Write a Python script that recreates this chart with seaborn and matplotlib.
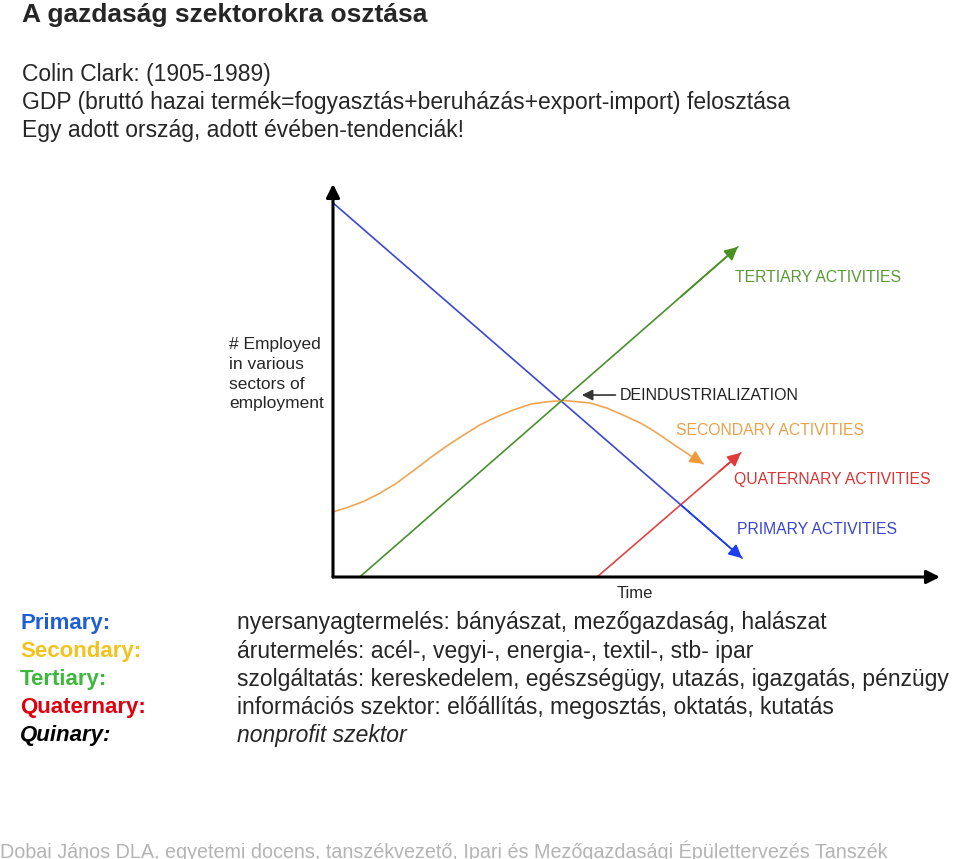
import numpy as np
import pandas as pd
import matplotlib
matplotlib.use("Agg")
import matplotlib.pyplot as plt
import seaborn as sns

# -----------------------------
# Data (time / employment 0..100)
# -----------------------------
primary_x = [0.0, 67.4]
primary_y = [95.2, 4.8]

tertiary_x = [4.4, 66.7]
tertiary_y = [0.0, 84.0]

quaternary_x = [43.5, 67.2]
quaternary_y = [0.0, 31.6]

secondary_x = [0.05, 2.2, 5.0, 7.7, 10.5, 13.2, 16.0, 18.8, 21.5, 24.2, 27.0, 29.7,
               32.6, 35.3, 38.1, 42.3, 45.1, 47.8, 50.6, 52.2, 53.9, 56.7, 59.3, 61.0]
secondary_y = [16.6, 17.6, 19.2, 21.3, 23.9, 27.0, 30.3, 33.4, 36.1, 38.7, 40.8, 42.5,
               44.0, 44.6, 44.9, 44.3, 43.0, 41.2, 39.2, 37.8, 36.1, 33.1, 30.5, 28.8]

deind_point = (41.0, 46.3)

sector_labels = ["TERTIARY ACTIVITIES", "SECONDARY ACTIVITIES",
                 "QUATERNARY ACTIVITIES", "PRIMARY ACTIVITIES"]
label_pos = [(66.2, 76.3), (56.5, 37.2), (66.1, 24.9), (66.6, 12.2)]
label_colors = ["#5a9a35", "#eba04a", "#d93535", "#3a44d0"]

title = "A gazdaság szektorokra osztása"
intro_lines = ["Colin Clark: (1905-1989)",
               "GDP (bruttó hazai termék=fogyasztás+beruházás+export-import) felosztása",
               "Egy adott ország, adott évében-tendenciák!"]

sector_names = ["Primary:", "Secondary:", "Tertiary:", "Quaternary:", "Quinary:"]
sector_colors = ["#1f5fd6", "#f2c21f", "#3db83d", "#e0000f", "#000000"]
sector_desc = ["nyersanyagtermelés: bányászat, mezőgazdaság, halászat",
               "árutermelés: acél-, vegyi-, energia-, textil-, stb- ipar",
               "szolgáltatás: kereskedelem, egészségügy, utazás, igazgatás, pénzügy",
               "információs szektor: előállítás, megosztás, oktatás, kutatás",
               "nonprofit szektor"]

footer = "Dobai János DLA, egyetemi docens, tanszékvezető, Ipari és Mezőgazdasági Épülettervezés Tanszék"

# -----------------------------
# Long-form table for seaborn
# -----------------------------
df = pd.concat([
    pd.DataFrame({"time": primary_x, "employed": primary_y, "sector": "primary"}),
    pd.DataFrame({"time": secondary_x, "employed": secondary_y, "sector": "secondary"}),
    pd.DataFrame({"time": tertiary_x, "employed": tertiary_y, "sector": "tertiary"}),
    pd.DataFrame({"time": quaternary_x, "employed": quaternary_y, "sector": "quaternary"}),
], ignore_index=True)

line_colors = {"primary": "#3b48d2", "secondary": "#f0a555",
               "tertiary": "#4a902c", "quaternary": "#e04545"}
head_colors = {"primary": "#1a3ef0", "secondary": "#f09a3a",
               "tertiary": "#4a8f22", "quaternary": "#e03a3a"}

sns.set_style("white")
plt.rcParams["font.family"] = ["Liberation Sans", "DejaVu Sans"]

fig = plt.figure(figsize=(9.6, 8.59), dpi=100)
ax = fig.add_axes([333 / 960, (859 - 577) / 859, (940 - 333) / 960, (577 - 184) / 859])

sns.lineplot(data=df, x="time", y="employed", hue="sector", palette=line_colors,
             estimator=None, sort=False, legend=False, linewidth=1.2, ax=ax)
for ln in ax.lines:
    ln.set_solid_joinstyle("round")

ax.set_xlim(0, 100)
ax.set_ylim(0, 100)
ax.set_xticks([])
ax.set_yticks([])
ax.set_xlabel("")
ax.set_ylabel("")
for s in ax.spines.values():
    s.set_visible(False)

# arrow heads at the end of each series
for name, grp in df.groupby("sector"):
    xs = grp["time"].to_numpy()
    ys = grp["employed"].to_numpy()
    end = np.array([xs[-1], ys[-1]])
    prev = np.array([xs[-2], ys[-2]])
    start = end - 0.15 * (end - prev) if len(xs) == 2 else prev
    ax.annotate("", xy=end, xytext=start,
                arrowprops=dict(arrowstyle="-|>", color=head_colors[name],
                                lw=1.2, mutation_scale=20, shrinkA=0, shrinkB=0),
                annotation_clip=False)

# axes with arrows
ax.annotate("", xy=(0, 1), xytext=(0, 0), xycoords="axes fraction",
            arrowprops=dict(arrowstyle="-|>", color="black", lw=2.2,
                            mutation_scale=20, shrinkA=0, shrinkB=0),
            annotation_clip=False)
ax.annotate("", xy=(1, 0), xytext=(0, 0), xycoords="axes fraction",
            arrowprops=dict(arrowstyle="-|>", color="black", lw=2.2,
                            mutation_scale=20, shrinkA=0, shrinkB=0),
            annotation_clip=False)

# deindustrialization pointer
ax.annotate("DEINDUSTRIALIZATION", xy=deind_point,
            xytext=(deind_point[0] + 6.3, deind_point[1]),
            fontsize=11.5, color="#222222", va="center", ha="left",
            arrowprops=dict(arrowstyle="-|>", color="#333333", lw=1.2,
                            mutation_scale=16, shrinkA=1, shrinkB=0))

for txt, (lx, ly), c in zip(sector_labels, label_pos, label_colors):
    ax.text(lx, ly, txt, color=c, fontsize=11.3, va="center", ha="left")

fig.text(229 / 960, 1 - 337 / 859, "# Employed\nin various\nsectors of\nemployment",
         fontsize=12.5, va="top", ha="left", linespacing=1.4)
fig.text(635 / 960, 1 - 594 / 859, "Time", fontsize=12, va="center", ha="center")

# header text
fig.text(22 / 960, 1 - 15 / 859, title, fontsize=19, fontweight="bold",
         va="center", ha="left")
for i, line in enumerate(intro_lines):
    fig.text(22 / 960, 1 - (74 + 28 * i) / 859, line, fontsize=16.5,
             va="center", ha="left")

# sector legend text
for i, (nm, c, d) in enumerate(zip(sector_names, sector_colors, sector_desc)):
    y = 1 - (623 + 28.2 * i) / 859
    style = "italic" if nm == "Quinary:" else "normal"
    fig.text(20 / 960, y, nm, color=c, fontsize=16, fontweight="bold",
             style=style, va="center", ha="left")
    fig.text(237 / 960, y, d, fontsize=16.5, style=style, va="center", ha="left")

fig.text(0, 1 - 841 / 859, footer, color="#b4b4b4", fontsize=14.2,
         va="top", ha="left")

fig.savefig("out.png", dpi=100)
